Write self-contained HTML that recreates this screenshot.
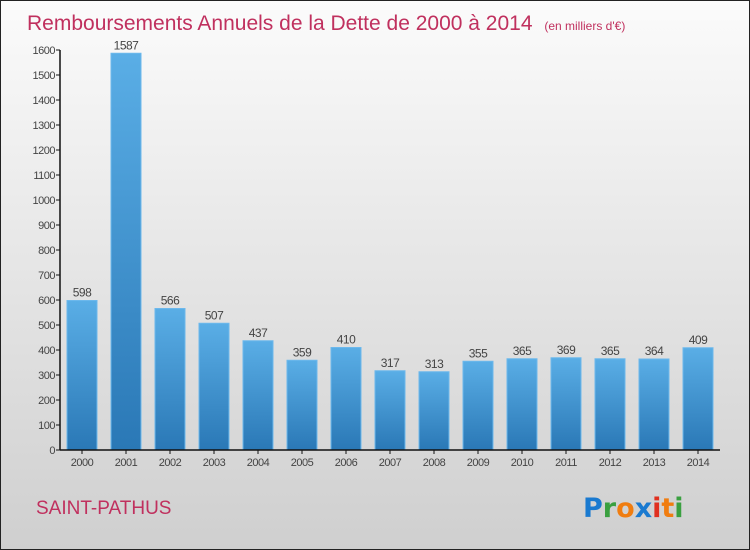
<!DOCTYPE html>
<html><head><meta charset="utf-8"><style>
body{margin:0;width:750px;height:550px;overflow:hidden}
svg{display:block;font-family:"Liberation Sans",sans-serif}
</style></head><body>
<svg width="750" height="550">
<defs>
<linearGradient id="bg" x1="0" y1="0" x2="0" y2="1"><stop offset="0" stop-color="#fbfbfb"/><stop offset="1" stop-color="#cfcfcf"/></linearGradient>
<linearGradient id="bar" x1="0" y1="0" x2="0" y2="1"><stop offset="0" stop-color="#5aaee6"/><stop offset="1" stop-color="#2a78b6"/></linearGradient>
</defs>
<rect x="0.5" y="0.5" width="749" height="549" fill="url(#bg)" stroke="#222"/>
<text x="27" y="30" font-size="21" fill="#c0305e">Remboursements Annuels de la Dette de 2000 à 2014 <tspan font-size="12" dx="6">(en milliers d'€)</tspan></text>
<g id="yaxis"></g>
<g id="bars"></g>
<g id="xaxis"></g>
<text x="36" y="514" font-size="19" fill="#c0305e">SAINT-PATHUS</text>
<g font-size="27" font-family="'DejaVu Sans',sans-serif" font-weight="bold">
<text x="583" y="517"><tspan fill="#1a7ad0">P</tspan><tspan fill="#3aa040">r</tspan><tspan fill="#f07d10">o</tspan><tspan fill="#1a7ad0">x</tspan><tspan fill="#e03020">i</tspan><tspan fill="#f07d10">t</tspan><tspan fill="#3aa040">i</tspan></text>
</g>
</svg>
<script>
const categories=["2000","2001","2002","2003","2004","2005","2006","2007","2008","2009","2010","2011","2012","2013","2014"];
const values=[598,1587,566,507,437,359,410,317,313,355,365,369,365,364,409];
const yTicks=[0,100,200,300,400,500,600,700,800,900,1000,1100,1200,1300,1400,1500,1600];
const NS="http://www.w3.org/2000/svg";
const y=v=>450-v*0.25;
const x=i=>82+i*44;
function mk(t,a,p){const e=document.createElementNS(NS,t);for(const k in a)e.setAttribute(k,a[k]);p.appendChild(e);return e;}
const ya=document.getElementById('yaxis'),xa=document.getElementById('xaxis'),bg=document.getElementById('bars');
mk('line',{x1:60,y1:y(1600),x2:60,y2:450,stroke:'#111','stroke-width':1.5},ya);
mk('line',{x1:60,y1:450,x2:720,y2:450,stroke:'#111','stroke-width':1.5},xa);
yTicks.forEach(v=>{
 const l=mk('line',{x1:56,y1:y(v),x2:60,y2:y(v),stroke:'#111'},ya);
 
 
 const t=mk('text',{x:55,y:y(v)+4,'text-anchor':'end','font-size':11,fill:'#444','letter-spacing':'-0.5'},ya);
 t.textContent=v;
 
 
});
categories.forEach((c,i)=>{
 const r=mk('rect',{x:x(i)-15,y:y(values[i]),width:30,height:450-y(values[i]),fill:'url(#bar)',stroke:'#6cb8ec','stroke-width':1},bg);
 
 
 const vl=mk('text',{x:x(i),y:y(values[i])-4,'text-anchor':'middle','font-size':12,fill:'#444','letter-spacing':'-0.5'},bg);
 vl.textContent=values[i];
 
 
 const tk=mk('line',{x1:x(i),y1:450,x2:x(i),y2:454,stroke:'#111'},xa);
 
 
 const xl=mk('text',{x:x(i),y:466,'text-anchor':'middle','font-size':11,fill:'#444','letter-spacing':'-0.5'},xa);
 xl.textContent=c;
 
 
});
</script>
</body></html>
